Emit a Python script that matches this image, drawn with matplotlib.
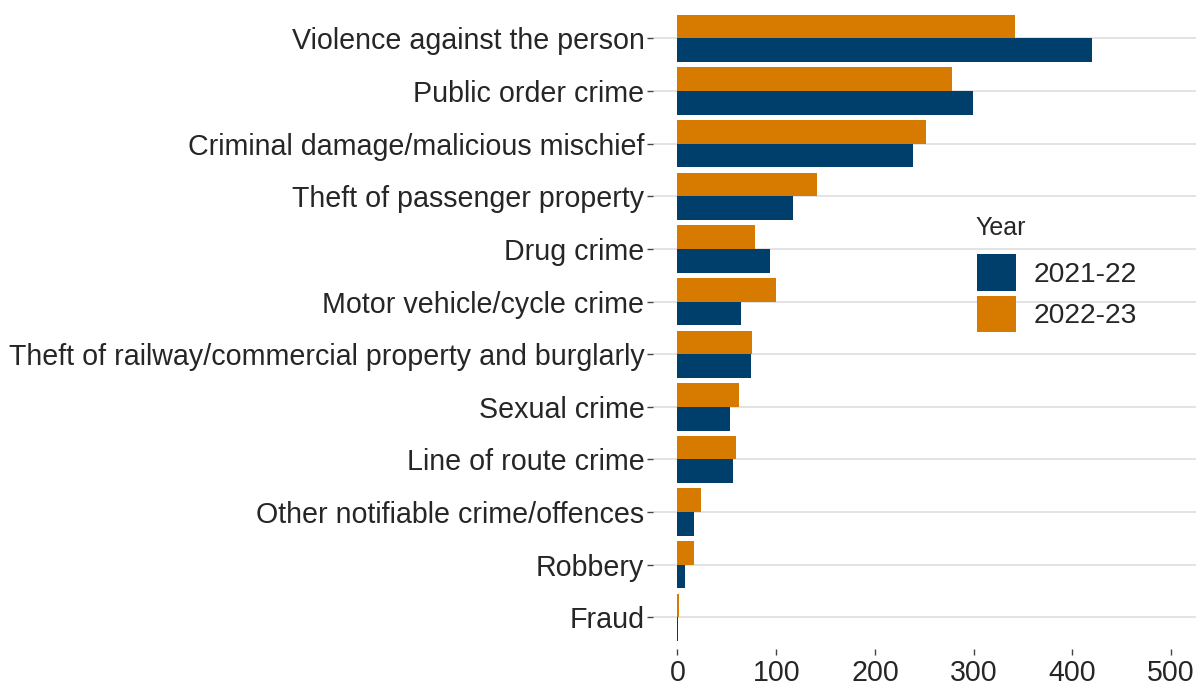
import matplotlib
matplotlib.use("Agg")
import matplotlib.pyplot as plt
import numpy as np
from matplotlib.patches import Patch

categories = [
    "Violence against the person",
    "Public order crime",
    "Criminal damage/malicious mischief",
    "Theft of passenger property",
    "Drug crime",
    "Motor vehicle/cycle crime",
    "Theft of railway/commercial property and burglarly",
    "Sexual crime",
    "Line of route crime",
    "Other notifiable crime/offences",
    "Robbery",
    "Fraud",
]
values_2021_22 = [420, 299, 239, 117, 94, 64, 74, 53, 56, 17, 8, 1]
values_2022_23 = [342, 278, 252, 141, 79, 100, 75, 62, 59, 24, 17, 2]
series_labels = ["2021-22", "2022-23"]
legend_title = "Year"
x_ticks = [0, 100, 200, 300, 400, 500]

navy = "#003E6B"
orange = "#D67B00"
text_col = "#262626"
grid_col = "#DEDEDE"

plt.rcParams["font.family"] = ["Liberation Sans", "DejaVu Sans"]

fig = plt.figure(figsize=(12.02, 6.88), dpi=100)
ax = fig.add_axes([0.5431, 0.0568, 0.9948 - 0.5431, 0.99 - 0.0568])

n = len(categories)
y = np.arange(n)[::-1].astype(float)
bw = 0.45
ax.barh(y - bw / 2, values_2021_22, height=bw, color=navy, zorder=3, label=series_labels[0])
ax.barh(y + bw / 2, values_2022_23, height=bw, color=orange, zorder=3, label=series_labels[1])

ax.set_xlim(-25, 525)
ax.set_ylim(-0.6, n - 1 + 0.6)
ax.set_xticks(x_ticks)
ax.set_xticklabels([str(t) for t in x_ticks])
ax.set_yticks(y)
ax.set_yticklabels(categories)

for s in ax.spines.values():
    s.set_visible(False)
ax.grid(axis="y", color=grid_col, linewidth=1.2, zorder=0)
ax.grid(axis="x", visible=False)
ax.tick_params(axis="both", colors="#444444", labelcolor=text_col, labelsize=20.6,
               length=4, width=1.0)
ax.tick_params(axis="y", pad=2)
ax.tick_params(axis="x", pad=3)

handles = [Patch(facecolor=navy, edgecolor="none"), Patch(facecolor=orange, edgecolor="none")]
leg = fig.legend(handles, series_labels, loc="upper left",
                 bbox_to_anchor=(977 / 1202, 1 - 254 / 688), frameon=False,
                 fontsize=20.3, handlelength=1.4, handleheight=1.63,
                 handletextpad=0.6, labelspacing=0.17, borderpad=0.0,
                 borderaxespad=0.0)
for t in leg.get_texts():
    t.set_color(text_col)
fig.text(975 / 1202, 1 - 228 / 688, legend_title, fontsize=18, color=text_col,
         ha="left", va="center")

fig.savefig("out.png", dpi=100, facecolor="white")
